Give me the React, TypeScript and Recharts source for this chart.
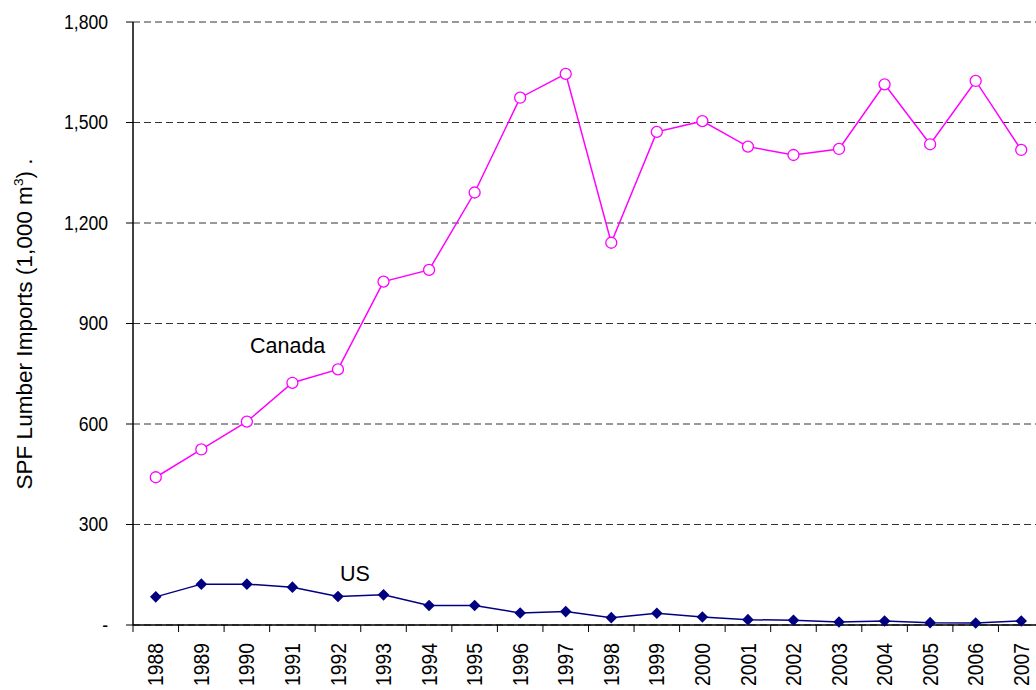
import { LineChart, Line, XAxis, YAxis, CartesianGrid, Label } from "recharts";

const years = [
  "1988", "1989", "1990", "1991", "1992", "1993", "1994", "1995", "1996", "1997",
  "1998", "1999", "2000", "2001", "2002", "2003", "2004", "2005", "2006", "2007",
];
const canada = [
  441, 524, 607, 723, 763, 1025, 1060, 1291, 1574, 1645,
  1141, 1472, 1504, 1428, 1403, 1421, 1614, 1435, 1624, 1418,
];
const us = [
  84, 122, 122, 113, 85, 90, 58, 58, 36, 40,
  22, 35, 24, 16, 14, 9, 12, 7, 6, 12,
];
const yTicks = [0, 300, 600, 900, 1200, 1500, 1800];

const data = years.map((year, i) => ({ year, canada: canada[i], us: us[i] }));

const font = "Arial, 'Liberation Sans', sans-serif";

function YearTick(props: any) {
  const { x, y, payload, index } = props;
  const half = 45.55 / 2;
  return (
    <g>
      <line x1={x - half} y1={y - 8} x2={x - half} y2={y - 1} stroke="#000" />
      {index === years.length - 1 && (
        <line x1={x + half} y1={y - 8} x2={x + half} y2={y - 1} stroke="#000" />
      )}
      <text
        x={0}
        y={0}
        transform={`translate(${x + 7.6}, ${y + 10}) rotate(-90) scale(1, 1.1)`}
        textAnchor="end"
        fontSize={19.3}
        fontFamily={font}
        fill="#000"
      >
        {payload.value}
      </text>
    </g>
  );
}

function ValueTick(props: any) {
  const { x, y, payload } = props;
  const label = payload.value === 0 ? "-" : payload.value.toLocaleString("en-US");
  return (
    <text
      x={0}
      y={0}
      transform={`translate(${x}, ${y}) scale(1, 1.1)`}
      dy="0.36em"
      textAnchor="end"
      fontSize={17.6}
      fontFamily={font}
      fill="#000"
    >
      {label}
    </text>
  );
}

function CircleDot(props: any) {
  const { cx, cy } = props;
  return <circle cx={cx} cy={cy} r={5.5} fill="#fff" stroke="#FF00FF" strokeWidth={1.3} />;
}

function DiamondDot(props: any) {
  const { cx, cy } = props;
  const s = 5.8;
  return (
    <polygon
      points={`${cx},${cy - s} ${cx + s},${cy} ${cx},${cy + s} ${cx - s},${cy}`}
      fill="#000080"
    />
  );
}

export default function App() {
  return (
    <div
      style={{
        position: "fixed",
        left: 0,
        top: 0,
        width: 1036,
        height: 690,
        overflow: "hidden",
        background: "#fff",
      }}
    >
      <LineChart
        width={1050}
        height={690}
        data={data}
        margin={{ top: 22, right: 6, bottom: 0, left: 0 }}
      >
        <CartesianGrid
          vertical={false}
          stroke="#333"
          strokeDasharray="7 4"
          horizontalValues={yTicks}
        />
        <XAxis
          dataKey="year"
          scale="band"
          height={65}
          axisLine={{ stroke: "#000", strokeWidth: 1.5 }}
          tickLine={false}
          tick={<YearTick />}
          interval={0}
        />
        <YAxis
          width={133}
          domain={[0, 1800]}
          ticks={yTicks}
          axisLine={{ stroke: "#000", strokeWidth: 1.5 }}
          tickLine={{ stroke: "#000" }}
          tickSize={7}
          tickMargin={18}
          tick={<ValueTick />}
        >
          <Label
            position="insideLeft"
            content={() => (
              <text
                transform="translate(32, 324) rotate(-90) scale(1.05, 1)"
                textAnchor="middle"
                fontSize={21.5}
                fontFamily={font}
                fill="#000"
              >
                SPF Lumber Imports (1,000 m
                <tspan fontSize={13} dy={-9}>3</tspan>
                <tspan dy={9}>)  .</tspan>
              </text>
            )}
          />
        </YAxis>
        <Line
          dataKey="canada"
          stroke="#FF00FF"
          strokeWidth={1.5}
          dot={<CircleDot />}
          isAnimationActive={false}
        />
        <Line
          dataKey="us"
          stroke="#000080"
          strokeWidth={1.5}
          dot={<DiamondDot />}
          isAnimationActive={false}
        />
        <text x={250} y={353} fontSize={21.5} fontFamily={font} fill="#000">
          Canada
        </text>
        <text x={340} y={581} fontSize={21.5} fontFamily={font} fill="#000">
          US
        </text>
      </LineChart>
    </div>
  );
}
